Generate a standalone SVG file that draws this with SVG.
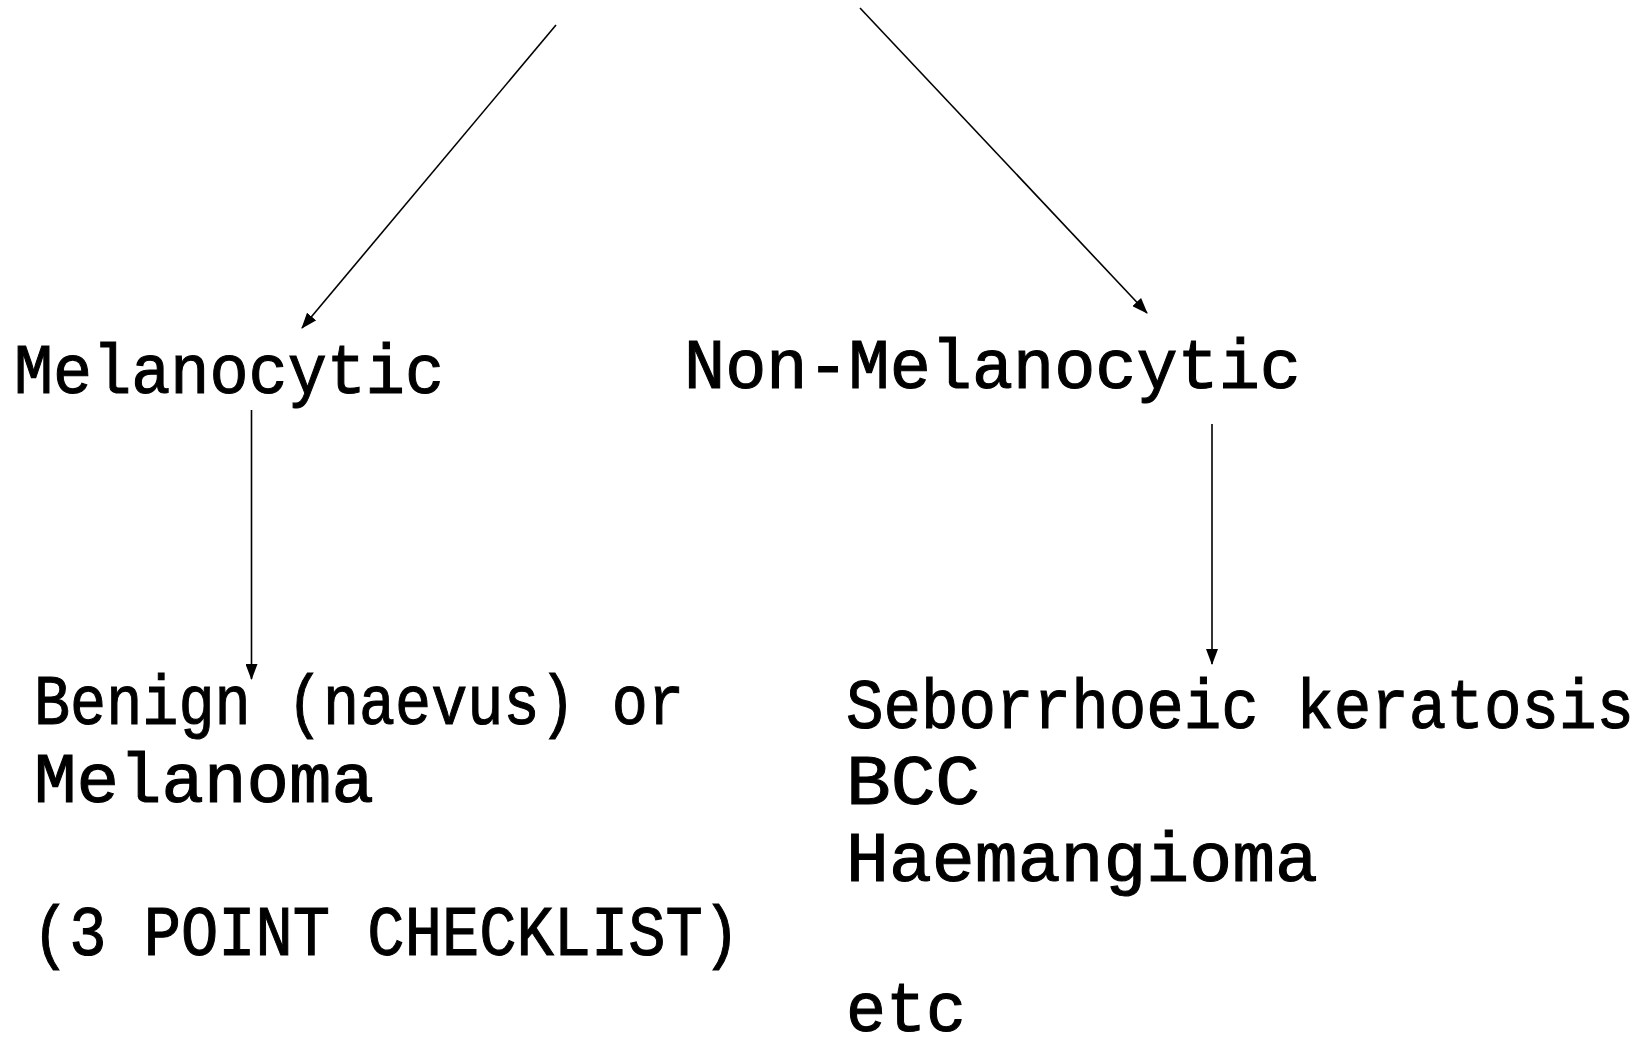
<svg xmlns="http://www.w3.org/2000/svg" width="1650" height="1041" viewBox="0 0 1650 1041">
<style>
text{font-family:"Liberation Mono","Courier New",monospace;font-size:70px;fill:#000;stroke:#000;stroke-width:1.1px}
.c{stroke:#000;stroke-width:1.6;fill:none}
</style>
<defs>
<marker id="ah" markerUnits="userSpaceOnUse" markerWidth="16" markerHeight="12" refX="15" refY="6" orient="auto" viewBox="0 0 16 12">
<path d="M0,0 L16,6 L0,12 Z" fill="#000"/>
</marker>
</defs>
<rect width="1650" height="1041" fill="#fff"/>
<g id="connectors">
<line class="c" x1="556" y1="25" x2="302" y2="328" marker-end="url(#ah)"/>
<line class="c" x1="860" y1="8" x2="1147" y2="313" marker-end="url(#ah)"/>
<line class="c" x1="251.5" y1="410" x2="251.5" y2="679" marker-end="url(#ah)"/>
<line class="c" x1="1212" y1="424" x2="1212" y2="664" marker-end="url(#ah)"/>
</g>
<g id="melanocytic"><text x="14" y="393" textLength="430" lengthAdjust="spacingAndGlyphs">Melanocytic</text></g>
<g id="non-melanocytic"><text x="684" y="388" textLength="617" lengthAdjust="spacingAndGlyphs">Non-Melanocytic</text></g>
<g id="benign">
<text x="34" y="724" textLength="650" lengthAdjust="spacingAndGlyphs">Benign (naevus) or</text>
<text x="34" y="802" textLength="340" lengthAdjust="spacingAndGlyphs">Melanoma</text>
<text x="32" y="955" textLength="708" lengthAdjust="spacingAndGlyphs">(3 POINT CHECKLIST)</text>
</g>
<g id="non-melanocytic-list">
<text x="846" y="728" textLength="788" lengthAdjust="spacingAndGlyphs">Seborrhoeic keratosis</text>
<text x="846" y="804" textLength="134" lengthAdjust="spacingAndGlyphs">BCC</text>
<text x="846" y="881" textLength="472" lengthAdjust="spacingAndGlyphs">Haemangioma</text>
<text x="846" y="1031" textLength="120" lengthAdjust="spacingAndGlyphs">etc</text>
</g>
</svg>
